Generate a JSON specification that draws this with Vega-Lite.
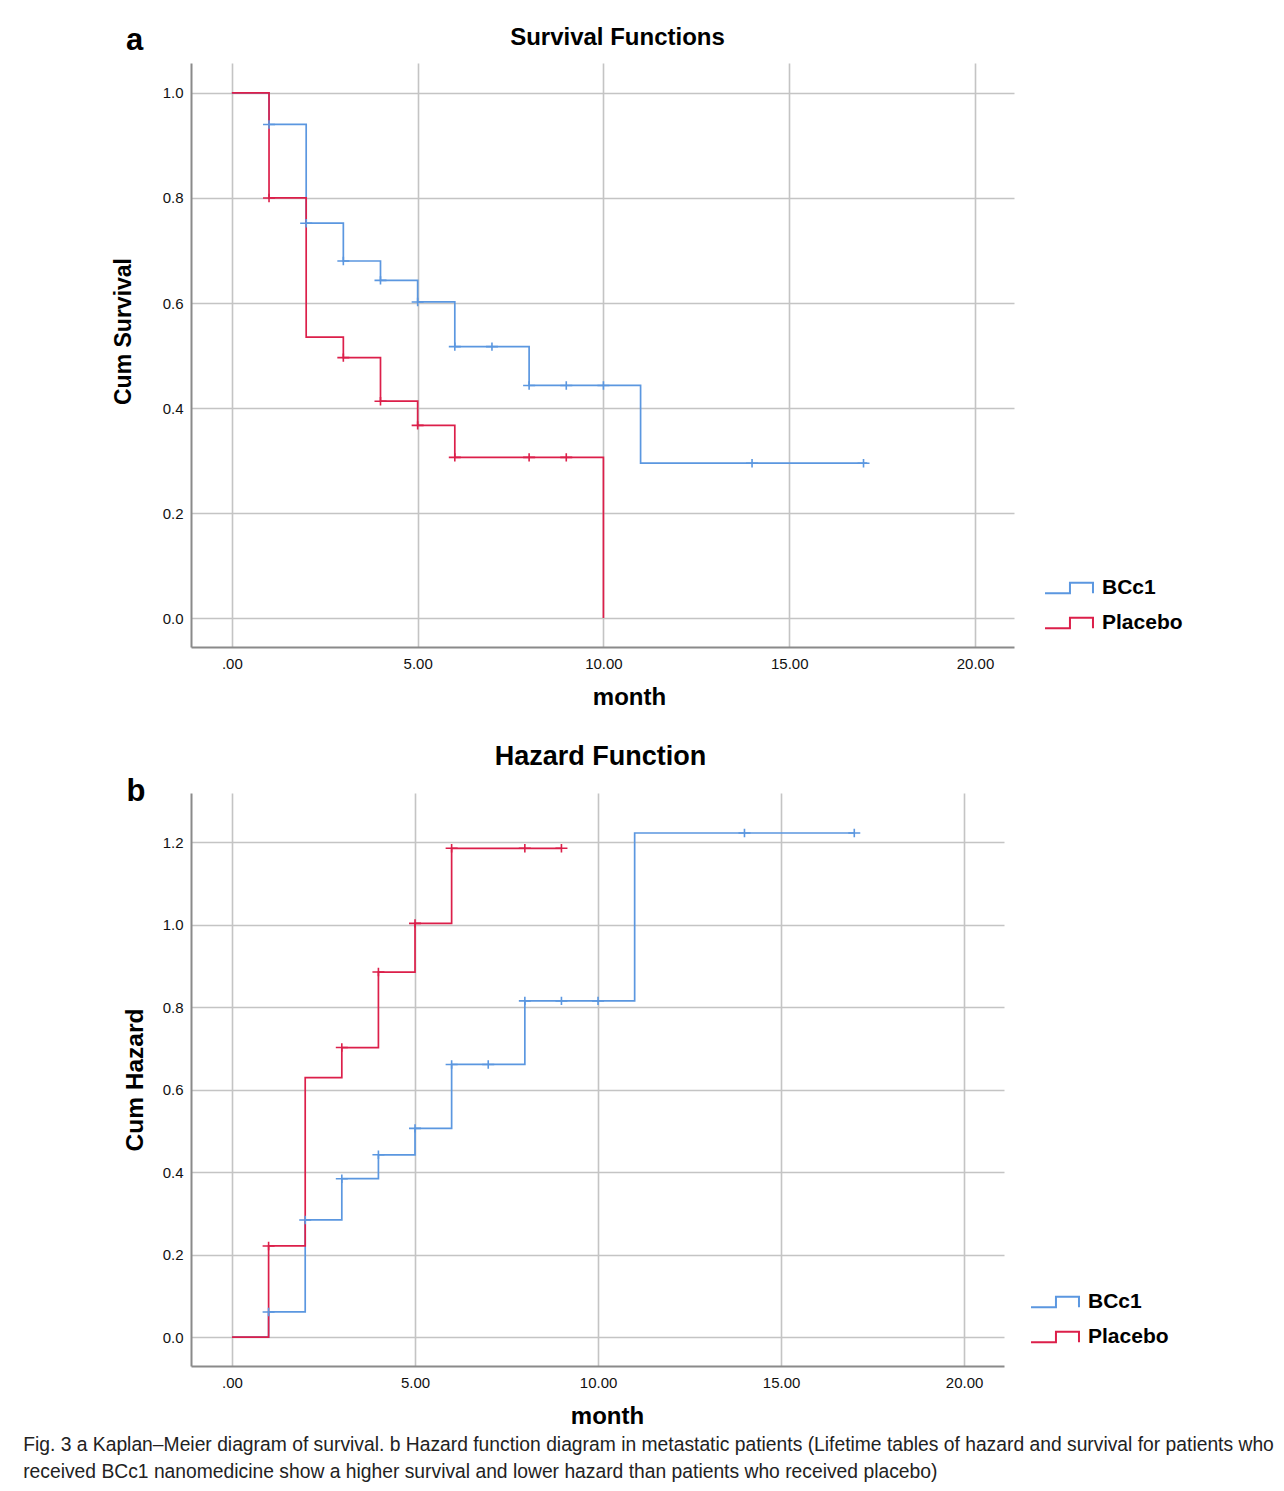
{
  "$schema": "https://vega.github.io/schema/vega-lite/v6.json",
  "padding": {"left": 23, "top": 24, "right": 0, "bottom": 0},
  "autosize": {"type": "pad"},
  "background": "white",
  "datasets": {
    "surv_steps": [
      {"group": "BCc1", "month": 0, "value": 1},
      {"group": "BCc1", "month": 1, "value": 0.94},
      {"group": "BCc1", "month": 2, "value": 0.752},
      {"group": "BCc1", "month": 3, "value": 0.68},
      {"group": "BCc1", "month": 4, "value": 0.643},
      {"group": "BCc1", "month": 5, "value": 0.602},
      {"group": "BCc1", "month": 6, "value": 0.517},
      {"group": "BCc1", "month": 8, "value": 0.443},
      {"group": "BCc1", "month": 11, "value": 0.295},
      {"group": "BCc1", "month": 17.1, "value": 0.295},
      {"group": "Placebo", "month": 0, "value": 1},
      {"group": "Placebo", "month": 1, "value": 0.8},
      {"group": "Placebo", "month": 2, "value": 0.535},
      {"group": "Placebo", "month": 3, "value": 0.496},
      {"group": "Placebo", "month": 4, "value": 0.413},
      {"group": "Placebo", "month": 5, "value": 0.367},
      {"group": "Placebo", "month": 6, "value": 0.306},
      {"group": "Placebo", "month": 10, "value": 0}
    ],
    "surv_cens": [
      {"group": "BCc1", "month": 1, "value": 0.94},
      {"group": "BCc1", "month": 2, "value": 0.752},
      {"group": "BCc1", "month": 3, "value": 0.68},
      {"group": "BCc1", "month": 4, "value": 0.643},
      {"group": "BCc1", "month": 5, "value": 0.602},
      {"group": "BCc1", "month": 6, "value": 0.517},
      {"group": "BCc1", "month": 7, "value": 0.517},
      {"group": "BCc1", "month": 8, "value": 0.443},
      {"group": "BCc1", "month": 9, "value": 0.443},
      {"group": "BCc1", "month": 10, "value": 0.443},
      {"group": "BCc1", "month": 14, "value": 0.295},
      {"group": "BCc1", "month": 17, "value": 0.295},
      {"group": "Placebo", "month": 1, "value": 0.8},
      {"group": "Placebo", "month": 3, "value": 0.496},
      {"group": "Placebo", "month": 4, "value": 0.413},
      {"group": "Placebo", "month": 5, "value": 0.367},
      {"group": "Placebo", "month": 6, "value": 0.306},
      {"group": "Placebo", "month": 8, "value": 0.306},
      {"group": "Placebo", "month": 9, "value": 0.306}
    ],
    "haz_steps": [
      {"group": "BCc1", "month": 0, "value": 0},
      {"group": "BCc1", "month": 1, "value": 0.061},
      {"group": "BCc1", "month": 2, "value": 0.284},
      {"group": "BCc1", "month": 3, "value": 0.384},
      {"group": "BCc1", "month": 4, "value": 0.442},
      {"group": "BCc1", "month": 5, "value": 0.506},
      {"group": "BCc1", "month": 6, "value": 0.661},
      {"group": "BCc1", "month": 8, "value": 0.815},
      {"group": "BCc1", "month": 11, "value": 1.222},
      {"group": "BCc1", "month": 17, "value": 1.222},
      {"group": "Placebo", "month": 0, "value": 0},
      {"group": "Placebo", "month": 1, "value": 0.221},
      {"group": "Placebo", "month": 2, "value": 0.629},
      {"group": "Placebo", "month": 3, "value": 0.702},
      {"group": "Placebo", "month": 4, "value": 0.885},
      {"group": "Placebo", "month": 5, "value": 1.003},
      {"group": "Placebo", "month": 6, "value": 1.185},
      {"group": "Placebo", "month": 9, "value": 1.185}
    ],
    "haz_cens": [
      {"group": "BCc1", "month": 1, "value": 0.061},
      {"group": "BCc1", "month": 2, "value": 0.284},
      {"group": "BCc1", "month": 3, "value": 0.384},
      {"group": "BCc1", "month": 4, "value": 0.442},
      {"group": "BCc1", "month": 5, "value": 0.506},
      {"group": "BCc1", "month": 6, "value": 0.661},
      {"group": "BCc1", "month": 7, "value": 0.661},
      {"group": "BCc1", "month": 8, "value": 0.815},
      {"group": "BCc1", "month": 9, "value": 0.815},
      {"group": "BCc1", "month": 10, "value": 0.815},
      {"group": "BCc1", "month": 14, "value": 1.222},
      {"group": "BCc1", "month": 17, "value": 1.222},
      {"group": "Placebo", "month": 1, "value": 0.221},
      {"group": "Placebo", "month": 3, "value": 0.702},
      {"group": "Placebo", "month": 4, "value": 0.885},
      {"group": "Placebo", "month": 5, "value": 1.003},
      {"group": "Placebo", "month": 6, "value": 1.185},
      {"group": "Placebo", "month": 8, "value": 1.185},
      {"group": "Placebo", "month": 9, "value": 1.185}
    ]
  },
  "title": {
    "text": [
      "Fig. 3  a Kaplan–Meier diagram of survival. b Hazard function diagram in metastatic patients (Lifetime tables of hazard and survival for patients who",
      "received BCc1 nanomedicine show a higher survival and lower hazard than patients who received placebo)"
    ],
    "orient": "bottom",
    "anchor": "start",
    "frame": "bounds",
    "dx": -89,
    "offset": 8,
    "font": "Liberation Sans",
    "fontSize": 19.3,
    "fontWeight": "normal",
    "lineHeight": 27,
    "color": "#222222"
  },
  "bounds": "flush",
  "spacing": 146,
  "resolve": {"scale": {"color": "independent", "x": "independent", "y": "independent"}, "legend": {"color": "independent"}},
  "vconcat": [
    {
      "width": 823,
      "height": 584,
      "title": {"text": "Survival Functions", "font": "Liberation Sans", "fontSize": 24, "fontWeight": "bold", "color": "black", "dx": 15, "offset": -25},
      "layer": [
        {
          "data": {"name": "surv_steps"},
          "mark": {"type": "line", "interpolate": "step-after", "strokeWidth": 1.7},
          "encoding": {
            "x": {"field": "month", "type": "quantitative", "scale": {"domain": [-1.1, 21.05], "nice": false, "zero": false},
              "axis": {"values": [0, 5, 10, 15, 20], "labelExpr": "datum.value == 0 ? '.00' : format(datum.value, '.2f')", "title": "month", "titleX": 438, "titlePadding": 14, "labelPadding": 9}},
            "y": {"field": "value", "type": "quantitative", "scale": {"domain": [-0.055, 1.057], "nice": false, "zero": false},
              "axis": {"values": [0, 0.2, 0.4, 0.6, 0.8, 1.0], "format": ".1f", "title": "Cum Survival", "titleY": 268, "titleFontSize": 23, "titlePadding": 27, "labelPadding": 8}},
            "color": {"field": "group", "type": "nominal", "scale": {"domain": ["BCc1", "Placebo"], "range": ["#5b97e0", "#dc1f4a"]},
              "legend": {"orient": "none", "legendX": 853, "legendY": 500}}
          }
        },
        {
          "data": {"name": "surv_cens"},
          "mark": {"type": "point", "shape": "M-1,0H1M0,-0.7V0.7", "filled": false, "size": 144, "strokeWidth": 1.6, "opacity": 1},
          "encoding": {
            "x": {"field": "month", "type": "quantitative"},
            "y": {"field": "value", "type": "quantitative"},
            "color": {"field": "group", "type": "nominal"}
          }
        },
        {
          "data": {"values": [{"label": "a"}]},
          "mark": {"type": "text", "font": "Liberation Sans", "fontSize": 31, "fontWeight": "bold", "align": "center", "baseline": "alphabetic", "color": "black"},
          "encoding": {
            "x": {"datum": -2.616},
            "y": {"datum": 1.082},
            "text": {"field": "label"}
          }
        }
      ]
    },
    {
      "width": 813,
      "height": 573,
      "title": {"text": "Hazard Function", "font": "Liberation Sans", "fontSize": 27, "fontWeight": "bold", "color": "black", "dx": 3, "offset": 5},
      "layer": [
        {
          "data": {"name": "haz_steps"},
          "mark": {"type": "line", "interpolate": "step-after", "strokeWidth": 1.7},
          "encoding": {
            "x": {"field": "month", "type": "quantitative", "scale": {"domain": [-1.12, 21.09], "nice": false, "zero": false},
              "axis": {"values": [0, 5, 10, 15, 20], "labelExpr": "datum.value == 0 ? '.00' : format(datum.value, '.2f')", "title": "month", "titleX": 416, "titlePadding": 14, "labelPadding": 9}},
            "y": {"field": "value", "type": "quantitative", "scale": {"domain": [-0.07, 1.319], "nice": false, "zero": false},
              "axis": {"values": [0, 0.2, 0.4, 0.6, 0.8, 1.0, 1.2], "format": ".1f", "title": "Cum Hazard", "titleFontSize": 24.5, "titlePadding": 15, "labelPadding": 8}},
            "color": {"field": "group", "type": "nominal", "scale": {"domain": ["BCc1", "Placebo"], "range": ["#5b97e0", "#dc1f4a"]},
              "legend": {"orient": "none", "legendX": 839, "legendY": 484}}
          }
        },
        {
          "data": {"name": "haz_cens"},
          "mark": {"type": "point", "shape": "M-1,0H1M0,-0.7V0.7", "filled": false, "size": 144, "strokeWidth": 1.6, "opacity": 1},
          "encoding": {
            "x": {"field": "month", "type": "quantitative"},
            "y": {"field": "value", "type": "quantitative"},
            "color": {"field": "group", "type": "nominal"}
          }
        },
        {
          "data": {"values": [{"label": "b"}]},
          "mark": {"type": "text", "font": "Liberation Sans", "fontSize": 31, "fontWeight": "bold", "align": "center", "baseline": "alphabetic", "color": "black"},
          "encoding": {
            "x": {"datum": -2.62},
            "y": {"datum": 1.299},
            "text": {"field": "label"}
          }
        }
      ]
    }
  ],
  "config": {
    "view": {"stroke": null},
    "axis": {
      "labelFont": "Liberation Sans",
      "labelFontSize": 15,
      "labelColor": "#111111",
      "titleFont": "Liberation Sans",
      "titleFontSize": 24,
      "titleFontWeight": "bold",
      "titleColor": "black",
      "ticks": false,
      "grid": true,
      "gridColor": "#c4c4c4",
      "gridWidth": 1.6,
      "domainColor": "#8a8a8a",
      "domainWidth": 2
    },
    "legend": {
      "title": null,
      "symbolType": "M-1,0.22H0.04V-0.22H1V0.22",
      "symbolSize": 2300,
      "symbolStrokeWidth": 2,
      "symbolFillColor": "transparent",
      "labelFont": "Liberation Sans",
      "labelFontSize": 21,
      "labelFontWeight": "bold",
      "labelColor": "black",
      "labelOffset": 8,
      "rowPadding": -1
    }
  }
}
